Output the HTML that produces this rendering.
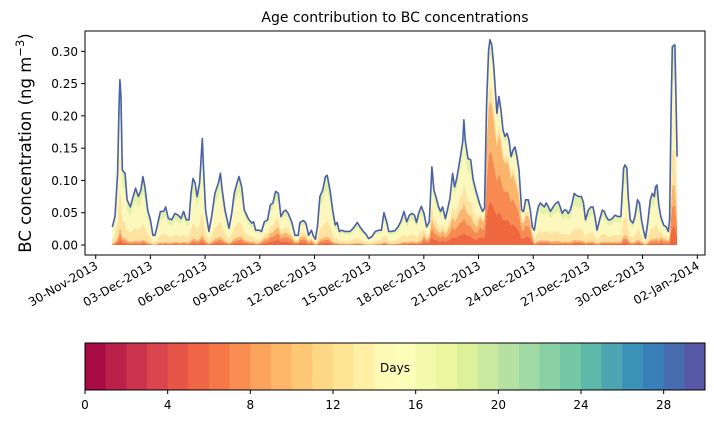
<!DOCTYPE html>
<html><head><meta charset="utf-8"><style>
body{margin:0;background:#fff;}
svg{display:block;font-family:"DejaVu Sans","Liberation Sans",sans-serif;}
</style></head><body>
<svg id="chart" width="714" height="425" viewBox="0 0 714 425">
<text x="395" y="22" text-anchor="middle" font-size="14" fill="#000">Age contribution to BC concentrations</text>
<text transform="translate(31,143) rotate(-90)" text-anchor="middle" font-size="16.5" fill="#000">BC concentration (ng m<tspan dy="-7" font-size="11.5">−3</tspan><tspan dy="7">)</tspan></text>
<g id="plot"></g>
<g id="cbar"></g>
</svg>
<script>
const days=[0.91,1.06,1.20,1.28,1.33,1.39,1.46,1.61,1.72,1.90,2.05,2.19,2.34,2.48,2.59,2.70,2.85,3.00,3.14,3.25,3.36,3.55,3.73,3.84,3.98,4.17,4.35,4.53,4.68,4.82,4.97,5.12,5.23,5.34,5.45,5.56,5.70,5.85,5.92,6.03,6.21,6.36,6.54,6.73,6.84,6.94,7.09,7.31,7.46,7.60,7.75,7.86,8.01,8.15,8.37,8.55,8.66,8.77,8.96,9.10,9.25,9.43,9.58,9.72,9.87,10.02,10.16,10.31,10.42,10.56,10.75,10.93,11.11,
11.20,11.39,11.53,11.68,11.83,11.94,12.05,12.16,12.30,12.45,12.60,12.70,12.85,13.00,13.14,13.25,13.36,13.51,13.65,13.80,13.95,14.13,14.35,14.50,14.68,14.82,14.97,15.15,15.34,15.52,15.67,15.81,15.96,16.07,16.21,16.40,16.58,16.73,16.91,17.06,17.20,17.35,17.49,17.60,17.71,17.86,18.01,18.15,18.30,18.44,18.55,18.66,18.81,18.92,19.03,19.18,19.29,19.43,19.58,19.69,19.80,19.98,20.13,20.20,20.27,20.42,20.57,20.71,20.90,21.08,21.22,21.33,21.44,21.55,21.63,21.73,21.84,
22.01,22.12,22.23,22.34,22.45,22.56,22.67,22.78,22.89,23.00,23.11,23.22,23.36,23.47,23.58,23.73,23.84,23.95,24.06,24.17,24.28,24.39,24.50,24.61,24.72,24.83,24.94,25.05,25.16,25.26,25.37,25.48,25.59,25.70,25.81,25.92,26.03,26.14,26.25,26.36,26.51,26.65,26.76,26.87,27.02,27.17,27.28,27.39,27.50,27.64,27.79,27.90,28.01,28.12,28.23,28.33,28.48,28.66,28.81,28.96,29.03,29.14,29.21,29.32,29.47,29.58,29.72,29.83,29.94,30.05,30.16,30.28,30.42,30.53,30.64,30.71,30.79,30.89,31.00,31.15,31.30,31.41,31.48,31.56,31.63,31.70,31.77,31.85,31.89];
const totals=[0.028,0.044,0.111,0.214,0.256,0.230,0.116,0.111,0.070,0.059,0.075,0.088,0.075,0.085,0.106,0.090,0.054,0.039,0.015,0.015,0.028,0.052,0.052,0.059,0.041,0.039,0.049,0.046,0.041,0.052,0.039,0.039,0.080,0.103,0.096,0.075,0.096,0.165,0.116,0.054,0.021,0.044,0.080,0.096,0.111,0.085,0.054,0.026,0.049,0.080,0.096,0.106,0.090,0.054,0.041,0.034,0.036,0.023,0.023,0.021,0.036,0.039,0.062,0.065,0.083,0.080,0.044,0.052,0.054,0.049,0.036,0.015,0.015,
0.035,0.038,0.034,0.015,0.023,0.014,0.009,0.028,0.075,0.085,0.106,0.108,0.085,0.054,0.031,0.035,0.021,0.023,0.021,0.021,0.021,0.026,0.035,0.028,0.021,0.017,0.010,0.013,0.021,0.023,0.023,0.050,0.036,0.021,0.021,0.022,0.028,0.036,0.052,0.036,0.046,0.049,0.046,0.035,0.049,0.060,0.049,0.028,0.036,0.121,0.085,0.075,0.059,0.052,0.059,0.041,0.054,0.072,0.111,0.090,0.103,0.132,0.160,0.194,0.163,0.134,0.132,0.101,0.080,0.062,0.052,0.057,0.219,0.302,0.318,0.310,0.276,
0.204,0.230,0.209,0.178,0.168,0.173,0.163,0.137,0.147,0.152,0.137,0.116,0.054,0.052,0.070,0.070,0.054,0.028,0.023,0.044,0.059,0.065,0.062,0.059,0.065,0.059,0.052,0.057,0.062,0.065,0.067,0.059,0.049,0.054,0.054,0.049,0.054,0.065,0.080,0.077,0.075,0.075,0.065,0.039,0.054,0.059,0.059,0.044,0.023,0.039,0.054,0.052,0.044,0.039,0.039,0.041,0.046,0.044,0.044,0.119,0.124,0.119,0.075,0.039,0.034,0.044,0.070,0.065,0.039,0.023,0.010,0.034,0.070,0.080,0.075,0.090,0.093,0.062,0.044,0.031,0.028,0.021,0.039,0.199,0.307,0.309,0.310,0.204,0.137];
// fraction of total from young air (per calendar day index)
const youngFrac=[0.1,0.1,0.08,0.08,0.1,0.1,0.12,0.12,0.15,0.3,0.35,0.35,0.12,0.1,0.1,0.1,0.1,0.12,0.35,0.4,0.35,0.7,0.75,0.65,0.12,0.1,0.1,0.1,0.12,0.12,0.12,0.3,0.3];
const yTicks=[0,0.05,0.10,0.15,0.20,0.25,0.30];
const xTickDays=[0,3,6,9,12,15,18,21,24,27,30,33];
const xTickLabels=["30-Nov-2013","03-Dec-2013","06-Dec-2013","09-Dec-2013","12-Dec-2013","15-Dec-2013","18-Dec-2013","21-Dec-2013","24-Dec-2013","27-Dec-2013","30-Dec-2013","02-Jan-2014"];
const cbTicks=[0,4,8,12,16,20,24,28];

const NS="http://www.w3.org/2000/svg";
const X0=85,X1=705,Y0=31,Y1=255;
const xs=d=>95.7+d*18.23;
const ys=v=>245-v*645.6;
const plot=document.getElementById('plot');
function mk(tag,attrs,parent){const e=document.createElementNS(NS,tag);for(const k in attrs)e.setAttribute(k,attrs[k]);parent.appendChild(e);return e;}

const layerFracs=[f=>f*0.3,f=>f*0.35,f=>f*0.35,f=>(1-f)*0.25,f=>(1-f)*0.5,f=>(1-f)*0.25];
const layerColors=["#f0683f","#f68a50","#fbb56c","#fee2a0","#fbf7bd","#e3f2a8"];
let cum=days.map(()=>0);
layerFracs.forEach((fn,li)=>{
  const lower=cum.slice();
  const upper=days.map((d,i)=>lower[i]+totals[i]*fn(youngFrac[Math.min(youngFrac.length-1,Math.floor(d))]));
  let dstr="M"+days.map((d,i)=>xs(d).toFixed(1)+","+ys(upper[i]).toFixed(1)).join("L");
  for(let i=days.length-1;i>=0;i--)dstr+="L"+xs(days[i]).toFixed(1)+","+ys(lower[i]).toFixed(1);
  const p=mk('path',{d:dstr+"Z",fill:layerColors[li],stroke:'none'},plot);
  
  
  cum=upper;
});
const line=mk('path',{d:"M"+days.map((d,i)=>xs(d).toFixed(1)+","+ys(totals[i]).toFixed(1)).join("L"),fill:'none',stroke:'#4a5fab','stroke-width':1.6,'stroke-linejoin':'round'},plot);



const frame=mk('rect',{x:X0,y:Y0,width:X1-X0,height:Y1-Y0,fill:'none',stroke:'#000','stroke-width':1},plot);



yTicks.forEach(v=>{
  const y=ys(v);
  const t=mk('line',{x1:X0-4,x2:X0,y1:y,y2:y,stroke:'#000'},plot);
  
  
  const l=mk('text',{x:X0-7,y:y+4.5,'text-anchor':'end','font-size':12},plot);
  l.textContent=v.toFixed(2);
  
  
});
xTickDays.forEach((d,i)=>{
  const x=xs(d);
  const t=mk('line',{x1:x,x2:x,y1:Y1,y2:Y1+4,stroke:'#000'},plot);
  
  
  const l=mk('text',{transform:`translate(${x+3},${Y1+13}) rotate(-30)`,'text-anchor':'end','font-size':12},plot);
  l.textContent=xTickLabels[i];
  
  
});

// colorbar
const cb=document.getElementById('cbar');
const stops=["#9e0142","#d53e4f","#f46d43","#fdae61","#fee08b","#ffffbf","#e6f598","#abdda4","#66c2a5","#3288bd","#5e4fa2"];
function hex(h){return [1,3,5].map(i=>parseInt(h.substr(i,2),16));}
function spectral(t){const s=t*10,i=Math.min(9,Math.floor(s)),f=s-i,a=hex(stops[i]),b=hex(stops[i+1]);return `rgb(${a.map((c,k)=>Math.round(c+(b[k]-c)*f)).join(',')})`;}
const CX0=85,CX1=705,CY0=343,CY1=390;
const cx=v=>CX0+v/30*(CX1-CX0);
for(let i=0;i<30;i++){
  const r=mk('rect',{x:cx(i),y:CY0,width:(CX1-CX0)/30+0.5,height:CY1-CY0,fill:spectral((i+0.5)/30)},cb);
  
  
}
const cf=mk('rect',{x:CX0,y:CY0,width:CX1-CX0,height:CY1-CY0,fill:'none',stroke:'#000','stroke-width':1},cb);


const dl=mk('text',{x:395,y:372,'text-anchor':'middle','font-size':12},cb);
dl.textContent='Days';


cbTicks.forEach(v=>{
  const x=cx(v);
  const t=mk('line',{x1:x,x2:x,y1:CY1,y2:CY1+4,stroke:'#000'},cb);
  
  
  const l=mk('text',{x:x,y:CY1+19,'text-anchor':'middle','font-size':12},cb);
  l.textContent=v;
  
  
});
</script>
</body></html>
